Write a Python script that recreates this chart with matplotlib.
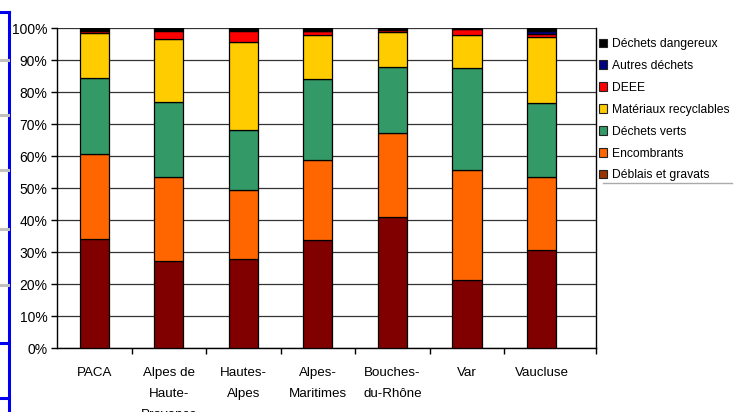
import matplotlib
matplotlib.use("Agg")
import matplotlib.pyplot as plt
from matplotlib.patches import Patch
from matplotlib.lines import Line2D
import numpy as np

plt.rcParams['font.family'] = ['Liberation Sans', 'DejaVu Sans']

# categories (x axis)
regions = ["PACA", "Alpes de\nHaute-\nProvence", "Hautes-\nAlpes", "Alpes-\nMaritimes",
           "Bouches-\ndu-Rhône", "Var", "Vaucluse"]

# share of each waste type, % (bottom -> top)
deblais = [34.0, 27.2, 27.9, 33.8, 40.8, 21.3, 30.6]
encombrants = [26.6, 26.3, 21.5, 25.0, 26.5, 34.3, 22.9]
dechets_verts = [23.7, 23.5, 18.7, 25.2, 20.6, 31.8, 23.2]
recyclables = [14.0, 19.5, 27.5, 13.7, 11.0, 10.3, 20.6]
deee = [0.8, 2.7, 3.6, 1.4, 0.5, 1.9, 0.7]
autres = [0.1, 0.1, 0.1, 0.1, 0.1, 0.1, 1.2]
dangereux = [0.8, 0.7, 0.7, 0.8, 0.5, 0.3, 0.8]

series = [
    ("Déblais et gravats", deblais, "#800000", "#993300"),
    ("Encombrants", encombrants, "#FF6600", "#FF6600"),
    ("Déchets verts", dechets_verts, "#339966", "#339966"),
    ("Matériaux recyclables", recyclables, "#FFCC00", "#FFCC00"),
    ("DEEE", deee, "#FF0000", "#FF0000"),
    ("Autres déchets", autres, "#000080", "#000080"),
    ("Déchets dangereux", dangereux, "#000000", "#000000"),
]

fig = plt.figure(figsize=(7.36, 4.12), dpi=100)
ax = fig.add_axes([57/736, 1-348/412, (596-57)/736, (348-28)/412])

x = np.arange(len(regions))
tot = np.zeros(len(regions))
for name, vals, col, _ in series:
    vals = np.array(vals, dtype=float)
    ax.bar(x, vals, width=0.39, bottom=tot, color=col, edgecolor="black",
           linewidth=0.9, zorder=3)
    tot += vals

ax.set_ylim(0, 100)
ax.set_xlim(-0.5, 6.73)
ax.set_yticks(np.arange(0, 101, 10))
ax.set_yticklabels([f"{v}%" for v in range(0, 101, 10)], fontsize=10)
ax.yaxis.grid(True, color="#333333", linewidth=0.9, zorder=0)
ax.tick_params(axis="y", length=4, width=1, pad=3)

ax.set_xticks(x)
ax.set_xticklabels(regions, fontsize=9.6, linespacing=1.95, va="top")
ax.tick_params(axis="x", which="major", length=0, pad=14)
ax.set_xticks(list(np.arange(0.5, 6, 1.0)) + [6.73], minor=True)
ax.tick_params(axis="x", which="minor", length=4, width=1)

ax.spines["top"].set_visible(False)
for s in ["right", "left", "bottom"]:
    ax.spines[s].set_linewidth(1)

# legend, top entry first
handles = [Patch(facecolor=lc, edgecolor="#222222", linewidth=0.8, label=name)
           for name, _, _, lc in series[::-1]]
fig.legend(handles=handles, loc="upper left", bbox_to_anchor=(599/736, 1-38/412),
           frameon=False, fontsize=8.7, handlelength=0.7, handleheight=0.7,
           handletextpad=0.35, labelspacing=0.82, borderaxespad=0, borderpad=0)
fig.add_artist(Line2D([603/736, 732/736], [1-183/412, 1-183/412], color="#aaaaaa", lw=1))

# blue frame remnants at the left edge
blue = "#0000ee"
fig.add_artist(Line2D([9/736, 9/736], [1-12/412, 0], color=blue, lw=2.2))
for yy in [12, 343, 398]:
    fig.add_artist(Line2D([0, 9/736], [1-yy/412, 1-yy/412], color=blue, lw=2.2))
for yy in [60, 115, 170, 229, 285]:
    fig.add_artist(Line2D([0, 8/736], [1-yy/412, 1-yy/412], color="#c0c0c0", lw=2.2))

fig.savefig("out.png", dpi=100)
